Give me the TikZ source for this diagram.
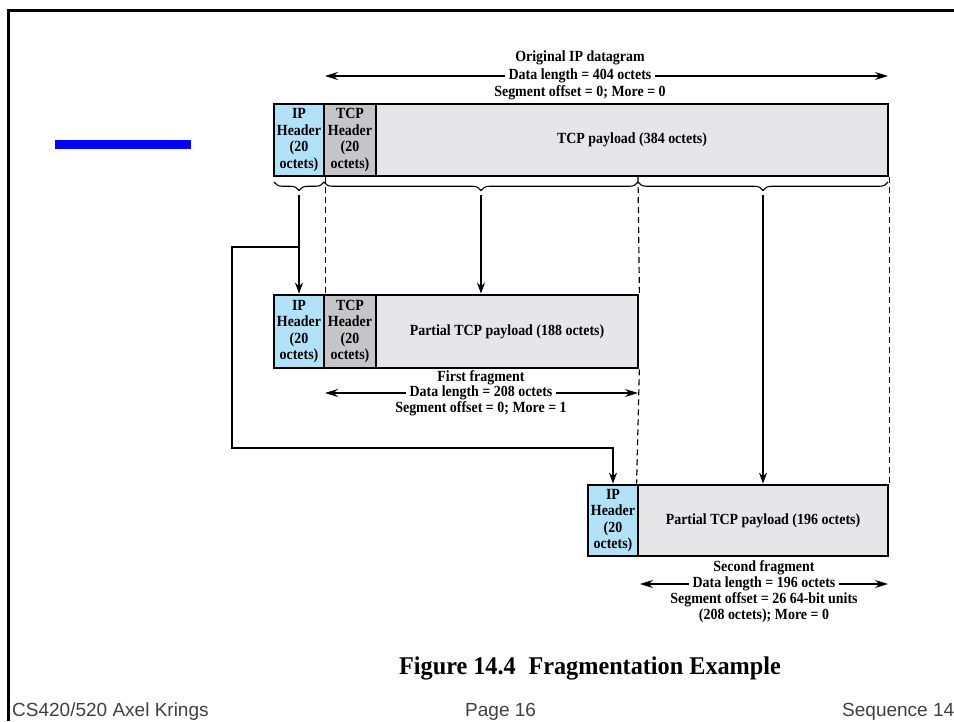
\documentclass[tikz,border=0pt]{standalone}
\usepackage{fontspec}
\setmainfont{Liberation Serif}
\newfontfamily\narrowserif{Liberation Serif}[FakeStretch=0.9]
\newfontfamily\capserif{Liberation Serif}[FakeStretch=0.95]
\newfontfamily\footfont{Liberation Sans}
\usetikzlibrary{arrows.meta,decorations.pathreplacing}
\definecolor{ipblue}{RGB}{178,226,248}
\definecolor{tcpgray}{RGB}{198,198,200}
\definecolor{paygray}{RGB}{230,230,232}
\definecolor{footgray}{RGB}{64,64,64}
\tikzset{
  cell/.style={draw=black, line width=2.8pt, inner sep=0pt, align=center,
    font=\narrowserif\bfseries\fontsize{15.5}{16.5}\selectfont},
  ipcell/.style={cell, fill=ipblue, minimum width=50pt},
  tcpcell/.style={cell, fill=tcpgray, minimum width=52pt},
  paycell/.style={cell, fill=paygray},
  lbl/.style={font=\narrowserif\bfseries\fontsize{15.5}{17}\selectfont, inner sep=1pt},
  gaplbl/.style={lbl, fill=white, inner xsep=4pt},
  downarrow/.style={line width=1.4pt, -{Stealth[length=11pt,width=8pt]}},
  spanarrow/.style={line width=1.3pt, {Stealth[length=13pt,width=8pt]}-{Stealth[length=13pt,width=8pt]}},
  guide/.style={line width=1.2pt, dash pattern=on 6pt off 4pt},
  bracket/.style={line width=1.1pt, decorate, decoration={brace, amplitude=8.5pt, mirror}},
  foot/.style={font=\footfont\fontsize{19}{22}\selectfont, text=footgray, inner sep=0pt}
}
\begin{document}
\begin{tikzpicture}[x=1pt,y=-1pt]
\useasboundingbox (0,0) rectangle (954,721);

% slide frame and title bar
\draw[line width=3pt] (954,10) -- (8,10) -- (8,721);
\fill[blue] (55,140) rectangle (191,149);

% original datagram
\node[ipcell, minimum height=72pt] (oip) at (299,140) {IP\\Header\\(20\\octets)};
\node[tcpcell, minimum height=72pt] (otcp) at (350,140) {TCP\\Header\\(20\\octets)};
\node[paycell, minimum width=512pt, minimum height=72pt] (opay) at (632,140) {TCP payload (384 octets)};

% first fragment
\node[ipcell, minimum height=73pt] (fip) at (299,331.5) {IP\\Header\\(20\\octets)};
\node[tcpcell, minimum height=73pt] (ftcp) at (350,331.5) {TCP\\Header\\(20\\octets)};
\node[paycell, minimum width=262pt, minimum height=73pt] (fpay) at (507,331.5) {Partial TCP payload (188 octets)};

% second fragment
\node[ipcell, minimum height=71pt] (sip) at (613,520.5) {IP\\Header\\(20\\octets)};
\node[paycell, minimum width=250pt, minimum height=71pt] (spay) at (763,520.5) {Partial TCP payload (196 octets)};

% braces grouping the original datagram
\draw[bracket] (274,182) -- (324,182);
\draw[bracket] (324,182) -- (638,182);
\draw[bracket] (638,182) -- (888,182);
\coordinate (t1) at (299,195);
\coordinate (t2) at (481,195);
\coordinate (t3) at (763,195);

% dashed boundaries
\coordinate (cut) at (638,177);
\draw[guide] (oip.south east) -- (fip.north east);
\draw[guide] (cut) -- (fpay.north east);
\draw[guide] (fpay.south east) -- (spay.north west);
\draw[guide] (opay.south east) -- (spay.north east);

% arrows to the fragments
\draw[downarrow] (t1) -- (fip.north);
\draw[downarrow] (t2) -- (t2 |- fpay.north);
\draw[downarrow] (t3) -- (t3 |- spay.north);
\coordinate (split) at (299,247);
\draw[downarrow] (split) -- ++(-67,0) -- ++(0,201) -| (sip.north);

% length annotations
\coordinate (oL) at (325,76);
\coordinate (oR) at (888,76);
\draw[spanarrow] (oL) -- (oR);
\node[lbl] (otitle) at (580,58) {Original IP datagram};
\node[gaplbl] (olen) at (580,76) {Data length = 404 octets};
\node[lbl] (ooff) at (580,93) {Segment offset = 0; More = 0};

\coordinate (fL) at (325,393);
\coordinate (fR) at (638,393);
\draw[spanarrow] (fL) -- (fR);
\node[lbl] (ftitle) at (481,378) {First fragment};
\node[gaplbl] (flen) at (481,393) {Data length = 208 octets};
\node[lbl] (foff) at (481,409) {Segment offset = 0; More = 1};

\coordinate (sL) at (640,584);
\coordinate (sR) at (888,584);
\draw[spanarrow] (sL) -- (sR);
\node[lbl] (stitle) at (764,568) {Second fragment};
\node[gaplbl] (slen) at (764,584) {Data length = 196 octets};
\node[lbl] (soff) at (764,600) {Segment offset = 26 64-bit units};
\node[lbl] (soff2) at (764,616) {(208 octets); More = 0};

% caption and footer
\node[font=\capserif\bfseries\fontsize{25.5}{28}\selectfont, inner sep=0pt] (cap) at (590,668) {Figure 14.4\enspace Fragmentation Example};
\node[foot, anchor=base west] (fl) at (12,716) {CS420/520 Axel Krings};
\node[foot, anchor=base west] (fc) at (465,716) {Page 16};
\node[foot, anchor=base west] (fr) at (842,716) {Sequence 14};
\end{tikzpicture}
\end{document}
